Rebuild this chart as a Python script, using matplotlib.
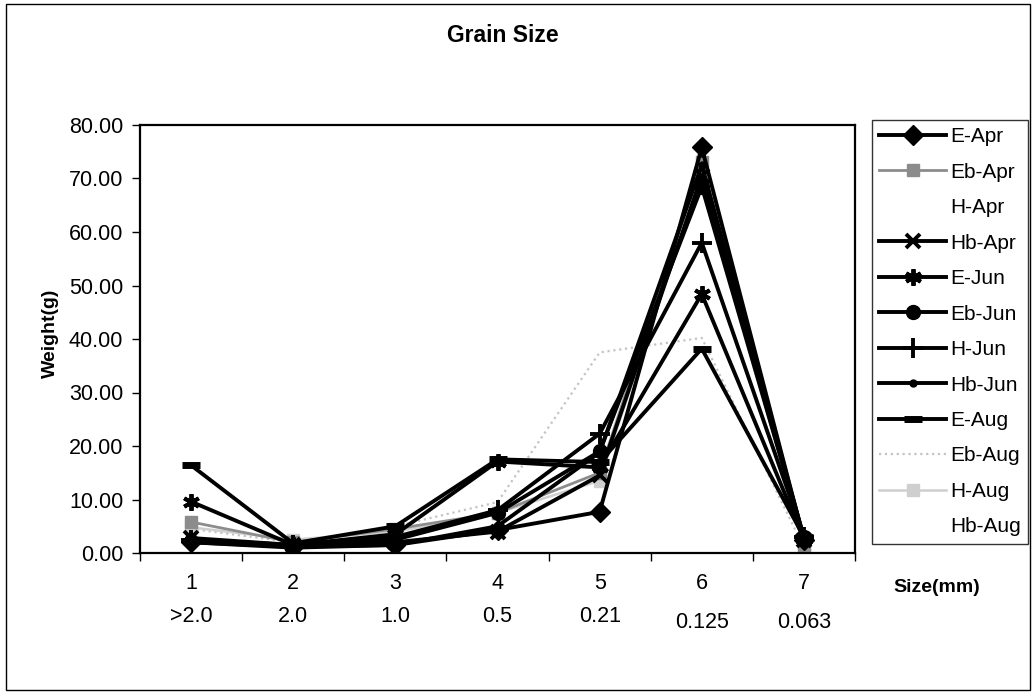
import matplotlib
matplotlib.use("Agg")
import matplotlib.pyplot as plt
from matplotlib.patches import Rectangle

plt.rcParams['font.family'] = ['Liberation Sans', 'DejaVu Sans']

categories = ["1", "2", "3", "4", "5", "6", "7"]
sizes_mm = [">2.0", "2.0", "1.0", "0.5", "0.21", "0.125", "0.063"]

series_names = ["E-Apr", "Eb-Apr", "H-Apr", "Hb-Apr", "E-Jun", "Eb-Jun",
                "H-Jun", "Hb-Jun", "E-Aug", "Eb-Aug", "H-Aug", "Hb-Aug"]

e_apr  = [2.0, 1.2, 1.5, 4.3, 7.7, 75.8, 2.5]
eb_apr = [5.8, 2.0, 4.5, 7.5, 15.0, 73.0, 1.5]
h_apr  = [3.5, 1.8, 3.0, 6.0, 14.0, 72.0, 1.5]
hb_apr = [2.8, 1.5, 2.0, 4.0, 14.5, 70.5, 2.5]
e_jun  = [9.6, 1.5, 3.5, 17.1, 16.0, 48.4, 2.5]
eb_jun = [2.2, 1.3, 2.5, 7.5, 19.0, 68.5, 3.0]
h_jun  = [2.5, 1.5, 3.0, 8.0, 22.3, 58.0, 3.0]
hb_jun = [2.0, 1.0, 1.5, 5.0, 18.8, 72.5, 2.8]
e_aug  = [16.4, 1.8, 5.0, 17.5, 17.0, 38.2, 3.0]
eb_aug = [4.5, 2.0, 5.0, 9.5, 37.5, 40.2, 1.0]
h_aug  = [4.8, 2.5, 4.0, 7.5, 13.5, 71.0, 1.0]
hb_aug = [3.0, 2.0, 3.5, 6.5, 14.0, 70.0, 1.2]

values = [e_apr, eb_apr, h_apr, hb_apr, e_jun, eb_jun,
          h_jun, hb_jun, e_aug, eb_aug, h_aug, hb_aug]

styles = [
    dict(color="black", marker="D", ms=10, lw=2.8, ls="-"),
    dict(color="#8c8c8c", marker="s", ms=9, lw=2.0, ls="-"),
    dict(color="white", marker="", ms=0, lw=0.0, ls="-"),
    dict(color="black", marker="x", ms=10, mew=2.8, lw=2.8, ls="-"),
    dict(color="black", marker=(6, 2, 0), ms=12, mew=2.8, lw=2.8, ls="-"),
    dict(color="black", marker="o", ms=10, lw=2.8, ls="-"),
    dict(color="black", marker="+", ms=15, mew=2.8, lw=2.8, ls="-"),
    dict(color="black", marker="o", ms=5, lw=2.8, ls="-"),
    dict(color="black", marker="_", ms=13, mew=5, lw=2.8, ls="-"),
    dict(color="#c4c4c4", marker="", ms=0, lw=1.6, ls=":"),
    dict(color="#cfcfcf", marker="s", ms=9, lw=1.8, ls="-"),
    dict(color="white", marker="", ms=0, lw=0.0, ls="-"),
]

fig = plt.figure(figsize=(10.33, 6.93), dpi=100)
ax = fig.add_axes([140/1033, 1-553/693, 715/1033, 428/693])

x = list(range(len(categories)))
order = [2, 11, 9, 10, 1, 0, 3, 4, 5, 6, 7, 8]
lines = {}
for i in order:
    st = dict(styles[i])
    ln, = ax.plot(x, values[i], label=series_names[i],
                  zorder=3 if st["color"] == "black" else 2, **st)
    lines[i] = ln

ax.set_xlim(-0.5, 6.5)
ax.set_ylim(0, 80)
ax.set_yticks(range(0, 81, 10))
ax.set_yticklabels([f"{v:.2f}" for v in range(0, 81, 10)], fontsize=15.5)
ax.set_xticks([i + 0.5 for i in range(-1, 7)])
ax.set_xticklabels([])
ax.tick_params(axis='x', direction='out', length=6, width=1)
ax.tick_params(axis='y', direction='out', length=6, width=1, pad=6)
for sp in ax.spines.values():
    sp.set_linewidth(1.6)

trans = ax.get_xaxis_transform()
for i, (c, s) in enumerate(zip(categories, sizes_mm)):
    ax.text(i, -0.072, c, transform=trans, ha="center", va="center", fontsize=15.5)
    dy = -0.148 if i < 5 else -0.163
    ax.text(i, dy, s, transform=trans, ha="center", va="center", fontsize=15.5)

fig.text(937/1033, 1-588/693, "Size(mm)", ha="center", va="center", fontsize=14, fontweight="bold")
fig.text(50/1033, 1-333/693, "Weight(g)", ha="center", va="center", rotation=90, fontsize=14, fontweight="bold")
fig.text(503/1033, 1-36/693, "Grain Size", ha="center", va="center", fontsize=16.5, fontweight="bold")

handles = [lines[i] for i in range(12)]
leg = fig.legend(handles, series_names, loc="upper left",
                 bbox_to_anchor=(872/1033, 1-120/693), fontsize=15,
                 frameon=True, fancybox=False, edgecolor="black",
                 handlelength=3.2, handletextpad=0.2, labelspacing=0.79,
                 borderpad=0.35, borderaxespad=0)
leg.get_frame().set_linewidth(1.0)

fig.patches.append(Rectangle((6/1033, 3/693), 1024/1033, 686/693,
                             transform=fig.transFigure, fill=False,
                             edgecolor="black", linewidth=1.0))

fig.savefig("out.png", dpi=100)
